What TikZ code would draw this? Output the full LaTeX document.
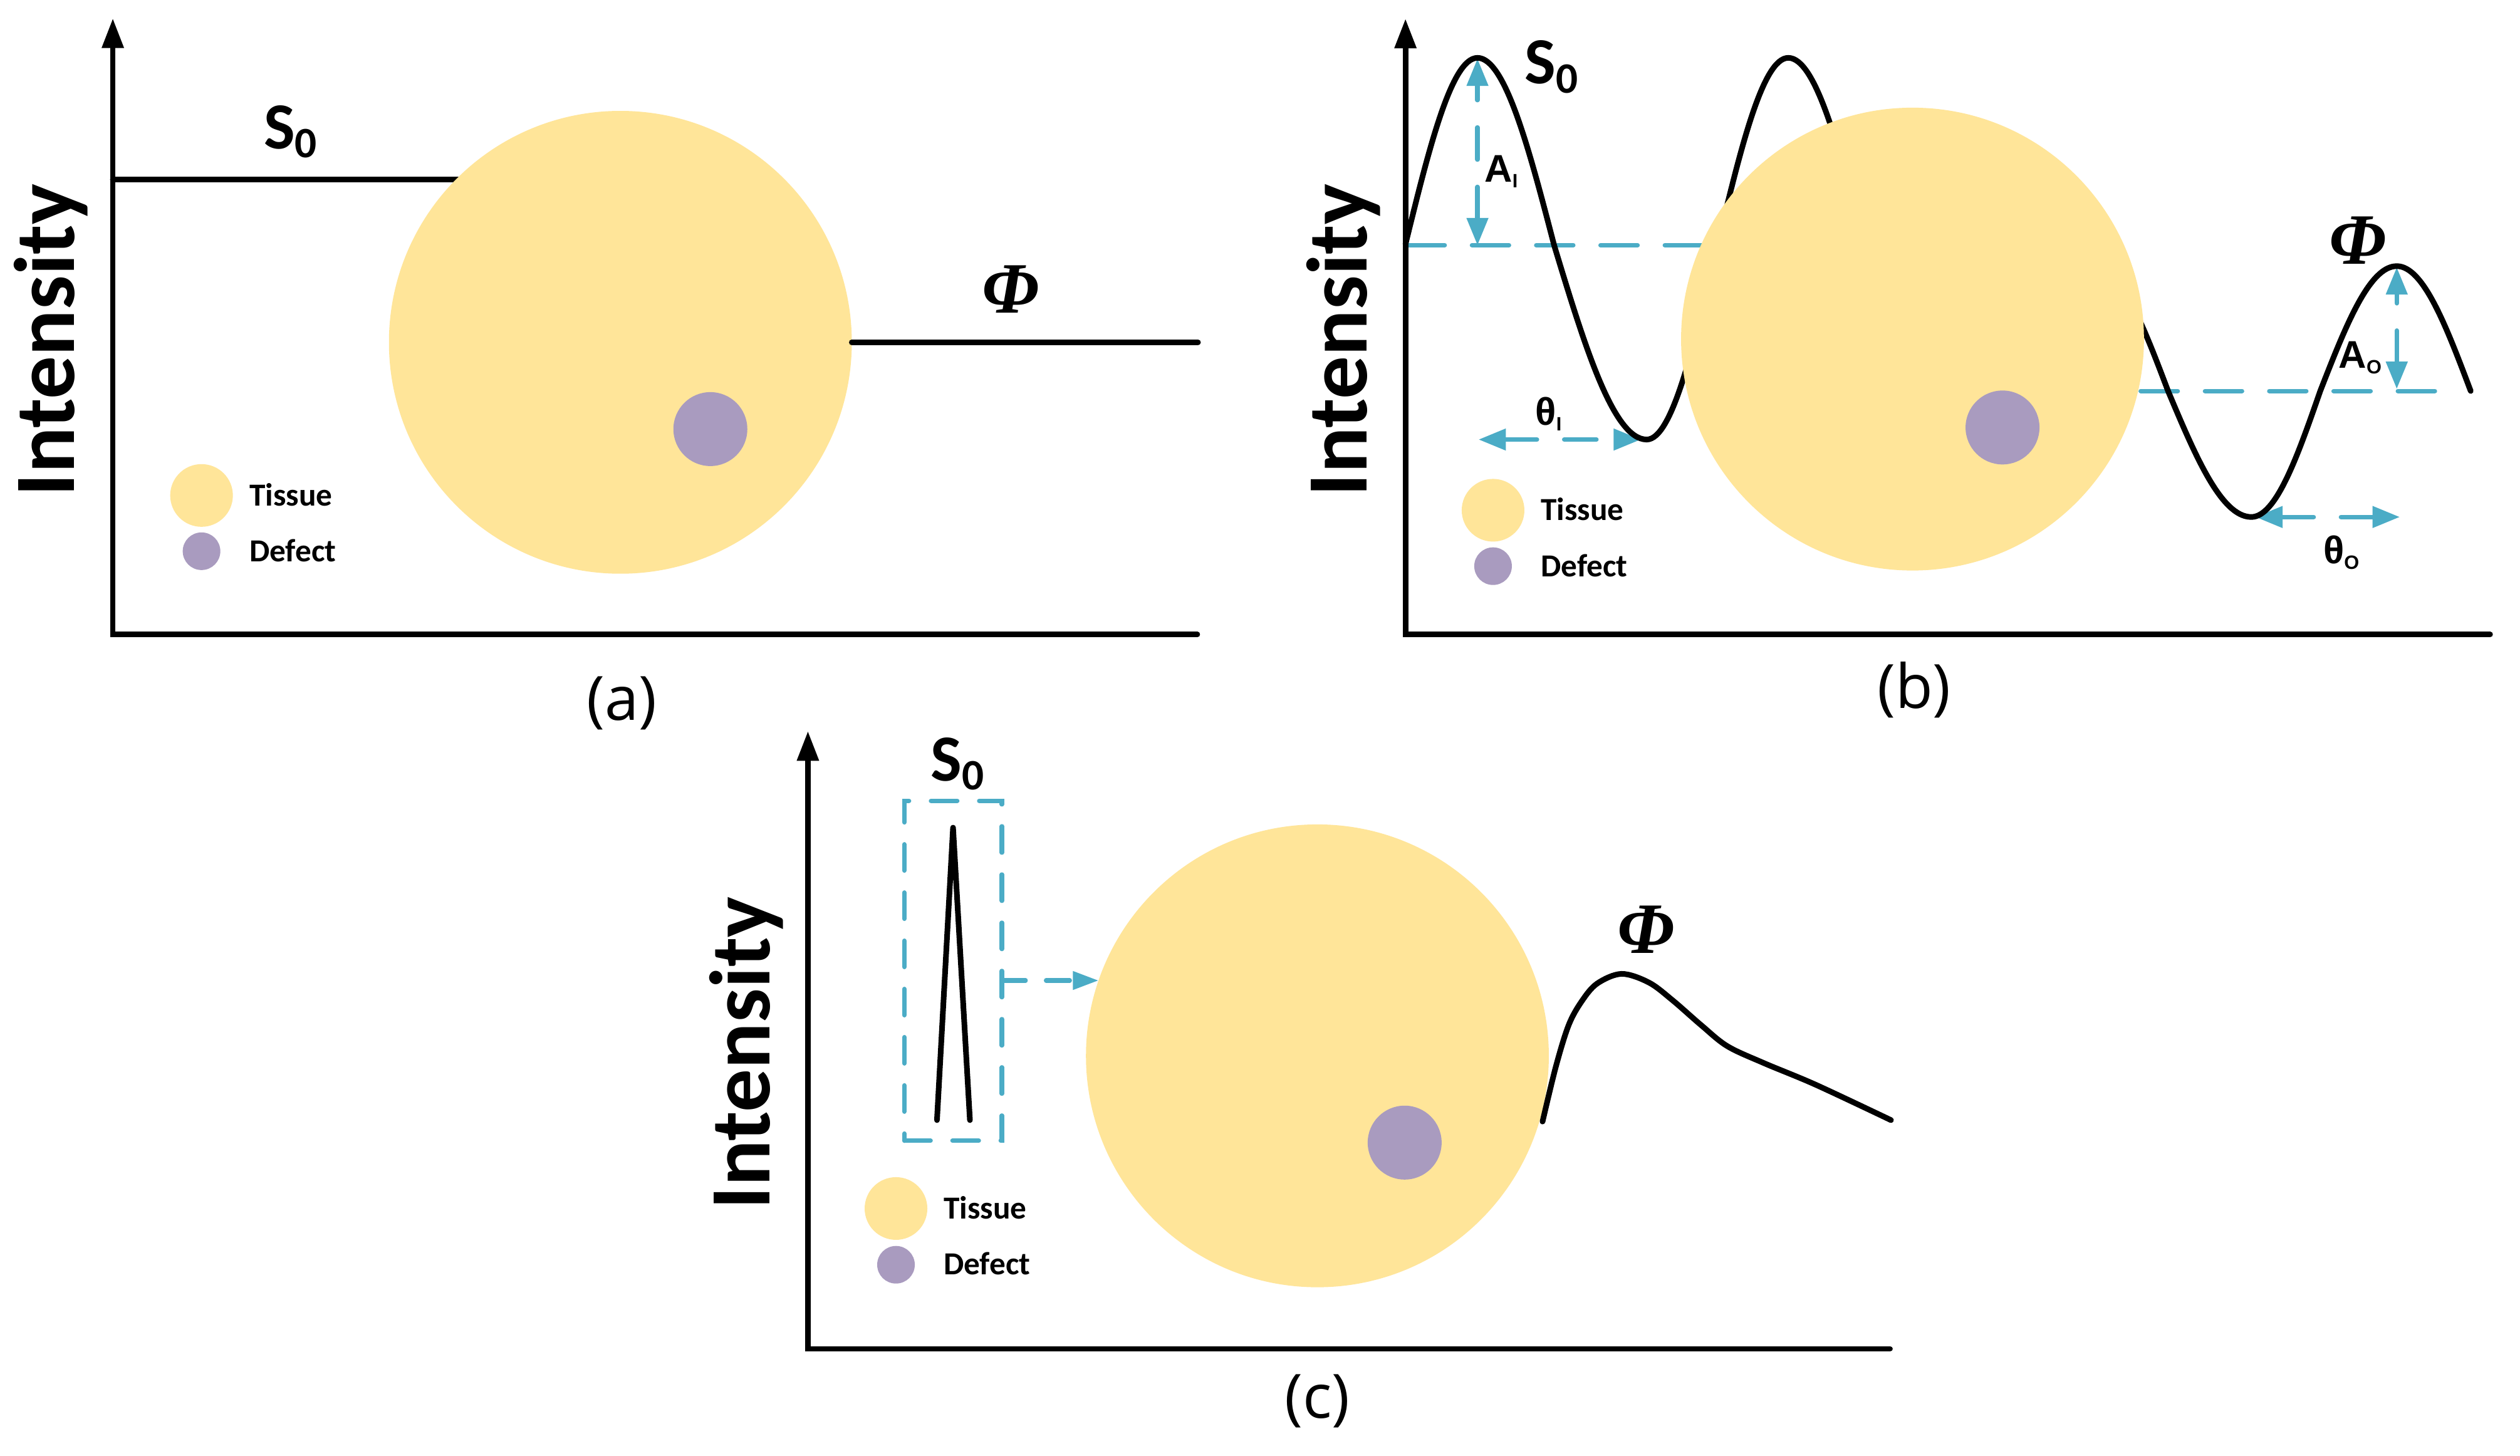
\documentclass[tikz,border=0pt]{standalone}
\usepackage{fontspec}
\setmainfont{Carlito}
\newfontfamily\arialf{Liberation Sans}
\newfontfamily\serf{Liberation Serif}
\newfontfamily\labfont{Open Sans}
\usetikzlibrary{arrows.meta}
\definecolor{tissue}{RGB}{255,229,153}
\definecolor{defect}{RGB}{169,155,191}
\definecolor{aqua}{RGB}{75,172,198}
\newcommand{\szero}{S\raisebox{-5.6pt}{\fontsize{27pt}{30pt}\selectfont 0}}
\newcommand{\subl}[1]{\raisebox{-3.5pt}{\fontsize{12pt}{14pt}\selectfont #1}}
\tikzset{
  axisline/.style={line width=3.4pt, line cap=round, line join=miter, {Triangle[length=18.5pt,width=13pt]}-},
  curveline/.style={line width=3.5pt, line cap=round, line join=round},
  midline/.style={draw=aqua, line width=2.8pt, line cap=round, dash pattern=on 23pt off 17pt},
  dimarrow/.style={draw=aqua, line width=2.8pt, line cap=round, dash pattern=on 20pt off 17pt, {Triangle[length=17pt,width=13pt,fill=aqua]}-{Triangle[length=17pt,width=13pt,fill=aqua]}},
  feedarrow/.style={draw=aqua, line width=2.8pt, line cap=round, dash pattern=on 14.7pt off 12.8pt, -{Triangle[length=16pt,width=11pt,fill=aqua]}},
  tissuebig/.style={circle, fill=tissue, minimum size=288pt, inner sep=0pt, outer sep=0pt},
  defectbig/.style={circle, fill=defect, minimum size=46pt, inner sep=0pt, outer sep=0pt},
  legt/.style={circle, fill=tissue, minimum size=39pt, inner sep=0pt, outer sep=0pt},
  legd/.style={circle, fill=defect, minimum size=23.4pt, inner sep=0pt, outer sep=0pt},
  legtext/.style={anchor=base west, inner sep=0pt, font=\fontsize{20pt}{24pt}\selectfont\bfseries},
  ylab/.style={rotate=90, anchor=base, inner sep=0pt, font=\fontsize{53.5pt}{60pt}\selectfont\bfseries},
  panel/.style={inner sep=0pt, font=\labfont\fontsize{38pt}{44pt}\selectfont},
  philab/.style={anchor=base, inner sep=0pt, font=\serf\bfseries\itshape\fontsize{45pt}{50pt}\selectfont},
  slab/.style={anchor=base west, inner sep=0pt, font=\bfseries\fontsize{41pt}{46pt}\selectfont},
  dlab/.style={anchor=base west, inner sep=0pt, font=\arialf\bfseries\fontsize{24pt}{28pt}\selectfont},
  spikebox/.style={draw=aqua, line width=2.8pt, line cap=round, dash pattern=on 16.3pt off 13.7pt, minimum width=60.7pt, minimum height=211.5pt, inner sep=0pt, outer sep=0pt}
}
\begin{document}
\begin{tikzpicture}[x=1pt,y=-1pt]
\useasboundingbox (0,0) rectangle (1568,906);
\fill[white] (0,0) rectangle (1568,906);

% ================= (a) =================
\coordinate (aS) at (70.2,111.8);
\draw[curveline] (aS) -- (286.5,111.8);
\node[tissuebig] (ta) at (386,213) {};
\node[defectbig] (da) at (442,267) {};
\draw[curveline] (ta.east) -- ++(215.4,0);
\draw[axisline] (70.2,11.4) -- (70.2,394.8) -- (745,394.8);
\node[slab] (sa) at (164,92.4) {\szero};
\node[philab] (pa) at (628.9,194.7) {Φ};
\node[legt] (lta) at (125.4,308.3) {};
\node[legd] (lda) at (125.4,343) {};
\node[legtext] (ltta) at (155,314.7) {Tissue};
\node[legtext] (ldta) at (155,349.6) {Defect};
\node[ylab] (ya) at (46.1,211.7) {Intensity};
\node[panel] (capa) at (386.9,437.5) {(a)};

% ================= (b) =================
\draw[midline] (875.9,152.6) -- (1075,152.6);
\draw[midline] (1332,243.3) -- (1516,243.3);
\draw[dimarrow] (919.3,152.6) -- (919.3,36.5);
\draw[dimarrow] (920,273.5) -- (1021,273.5);
\draw[dimarrow] (1491.3,242) -- (1491.3,166.3);
\draw[dimarrow] (1403.3,321.7) -- (1493.2,321.7);
\draw[curveline] (874.5,152) sin (919.3,36) cos (967,152.6) sin (1024.6,273.5) cos (1068.6,152.6) sin (1112.7,36) cos (1160,152.6) sin (1215,273.5);
\draw[curveline] (1303,166) cos (1349,243.3) sin (1400.8,321.7) cos (1443.7,243.3) sin (1491.3,165.6) cos (1537.3,243.3);
\node[tissuebig] (tb) at (1190,211) {};
\node[defectbig] (db) at (1246,266) {};
\draw[axisline] (874.5,11.6) -- (874.5,394.8) -- (1549.4,394.8);
\node[slab] (sb) at (948.6,52.1) {\szero};
\node[philab] (pb) at (1467,164.5) {Φ};
\node[dlab] (ai) at (923.5,113.4) {A\subl{I}};
\node[dlab] (ti) at (955.2,264.6) {θ\subl{I}};
\node[dlab] (ao) at (1455,229) {A\subl{O}};
\node[dlab] (to) at (1445.4,350.8) {θ\subl{O}};
\node[legt] (ltb) at (929,317.5) {};
\node[legd] (ldb) at (929,352.3) {};
\node[legtext] (lttb) at (958.6,323.9) {Tissue};
\node[legtext] (ldtb) at (958.6,358.8) {Defect};
\node[ylab] (yb) at (850.4,211.7) {Intensity};
\node[panel] (capb) at (1191,429.2) {(b)};

% ================= (c) =================
\node[tissuebig] (tc) at (819.7,657) {};
\node[defectbig] (dc) at (874,711) {};
\node[spikebox] (box) at (593.05,604.05) {};
\draw[curveline] (583,697) -- (593,515) -- (603.5,697);
\draw[feedarrow] (box.east |- tc.161.37) -- (tc.161.37);
\draw[curveline] plot[smooth, tension=0.55] coordinates {(959.8,697.9) (968,664) (976,638) (984.2,623) (993.8,612) (1009,606) (1026,611.4) (1040.8,622.5) (1058.6,638) (1074.8,651) (1097.5,661.5) (1129.8,675) (1176.6,697)};
\draw[axisline] (502.7,454.9) -- (502.7,839.3) -- (1176,839.3);
\node[slab] (sc) at (579,485.8) {\szero};
\node[philab] (pc) at (1024.3,593.2) {Φ};
\node[legt] (ltc) at (557.5,752) {};
\node[legd] (ldc) at (557.5,787) {};
\node[legtext] (lttc) at (587,758.4) {Tissue};
\node[legtext] (ldtc) at (587,793.3) {Defect};
\node[ylab] (yc) at (478.9,655.3) {Intensity};
\node[panel] (capc) at (819.7,872) {(c)};
\end{tikzpicture}
\end{document}
